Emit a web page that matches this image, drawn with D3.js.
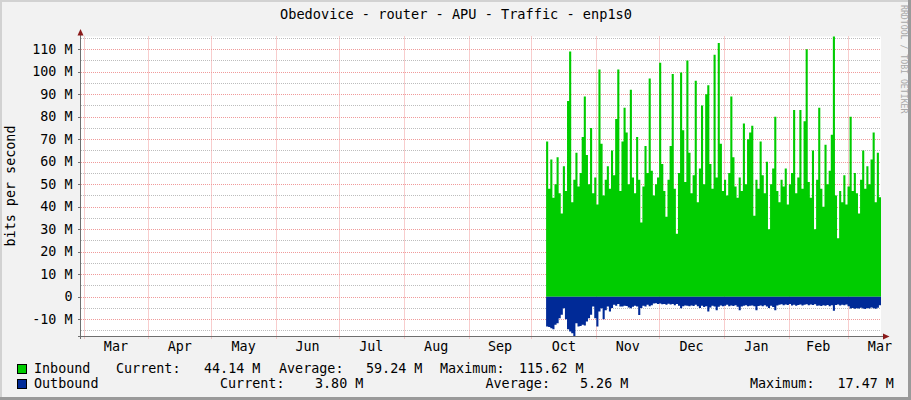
<!DOCTYPE html>
<html><head><meta charset="utf-8">
<script src="https://cdn.jsdelivr.net/npm/d3@7"></script>
<style>
body{margin:0;background:#f2f2f2}
svg{display:block}
text{font-family:"DejaVu Sans Mono",monospace;fill:#000}
</style>
</head><body>
<svg id="chart" width="911" height="400"></svg>
<script>
// ---------------- data ----------------
const title = "Obedovice - router - APU - Traffic - enp1s0";
const yAxisTitle = "bits per second";
const watermark = "RRDTOOL / TOBI OETIKER";
const timeStart = "2022-02-27T19:12:00Z";
const timeEnd = "2023-03-17T00:00:00Z";
const monthStarts = ["2022-03-01","2022-04-01","2022-05-01","2022-06-01","2022-07-01","2022-08-01","2022-09-01","2022-10-01","2022-11-01","2022-12-01","2023-01-01","2023-02-01","2023-03-01"];
const monthLabels = ["Mar","Apr","May","Jun","Jul","Aug","Sep","Oct","Nov","Dec","Jan","Feb","Mar"];
const yTickValues = [-10,0,10,20,30,40,50,60,70,80,90,100,110];
const yTickLabels = ["-10 M","0","10 M","20 M","30 M","40 M","50 M","60 M","70 M","80 M","90 M","100 M","110 M"];
const yMin = -17.47, yMax = 115.62;
const dataStart = "2022-10-08";
// daily values, Mbit/s
const inbound = [69,48,61,44,50,62,46,37,58,47,87,109,42,52,64,49,55,71,89,63,
50,75,46,53,41,101,68,45,52,58,48,65,54,79,101,47,69,84,73,50,
92,53,46,71,52,33,49,67,55,97,56,45,50,53,104,59,47,35.5,52,67,
99,48,28,55,99.6,74,51,105,64,46,54,96,42,57,85,50,90,94,59,48,
107.5,53,112.7,68,47,52,45,55,89,62,49,44,53,47,77,50,70,73,76,36,
52,48,69,54,46,60,30,50,57,80,47,42,52,49,57,41,50,55,83,46,
53,83,48,78,110,51,44,65,30,52,84,48,40,67.5,50,56,72,115.62,45,26,
47,42,54,41,49,80,47,55,46,37,52,65,48,58,50,61,73,42,64,44.14];
const outbound = [13.3,13.5,14.0,14.5,12.5,11.8,9.6,8.0,5.1,10.0,14.5,15.5,16.2,17.47,11.8,13.3,13.0,12.5,12.8,11.0,
9.6,8.0,4.4,9.6,13.3,6.6,5.1,10.0,6.0,4.4,6.6,5.0,3.6,4.0,3.3,4.4,4.4,4.0,4.1,4.8,
5.1,4.5,4.0,4.4,8.1,5.0,4.0,4.4,3.6,4.2,3.8,3.0,2.9,3.2,3.0,3.4,3.2,3.6,3.1,3.5,
3.3,3.8,3.2,4.0,5.1,4.2,3.9,4.0,4.3,3.9,4.1,3.6,4.2,5.0,4.0,4.6,4.2,6.6,4.8,4.0,
4.4,6.0,4.5,3.9,4.2,4.0,3.6,4.3,3.9,4.1,3.8,4.5,6.0,4.4,4.0,3.8,4.2,4.0,3.9,4.3,
6.0,4.1,3.9,4.2,3.8,4.4,5.0,4.0,4.6,6.0,3.9,3.6,3.4,3.8,3.5,3.7,3.3,3.9,3.6,4.0,
3.7,3.5,3.9,3.6,3.4,3.8,3.5,3.7,3.4,4.0,3.9,4.1,3.8,4.0,3.7,4.2,3.8,6.2,3.7,3.5,
3.9,3.6,3.8,3.5,4.2,5.2,5.0,5.4,5.1,5.3,4.9,5.2,5.5,5.0,5.3,4.8,5.1,5.4,4.9,3.8];
const seriesNames = ["Inbound","Outbound"];
const seriesColors = ["#00CC00","#002A97"];
const inStats = ["44.14 M","59.24 M","115.62 M"];
const outStats = ["3.80 M","5.26 M","17.47 M"];
const statNames = ["Current:","Average:","Maximum:"];

// ---------------- drawing ----------------
const W = 911, H = 400;
const plot = {left: 81, right: 881, top: 36.5, bottom: 336};
const svg = d3.select("#chart");
const FS = 13.4;

// background + 3D frame
svg.append("rect").attr("width", W).attr("height", H).attr("fill", "#f2f2f2");
svg.append("rect").attr("x",0).attr("y",0).attr("width",W).attr("height",2).attr("fill","#d2d2d2");
svg.append("rect").attr("x",0).attr("y",0).attr("width",2).attr("height",H).attr("fill","#d2d2d2");
svg.append("rect").attr("x",W-3).attr("y",0).attr("width",3).attr("height",H).attr("fill","#9a9a9a");
svg.append("rect").attr("x",0).attr("y",H-3).attr("width",W).attr("height",3).attr("fill","#9a9a9a");

// plot background
svg.append("rect").attr("x", plot.left).attr("y", plot.top)
  .attr("width", plot.right - plot.left).attr("height", plot.bottom - plot.top).attr("fill", "#fff");

const x = d3.scaleUtc().domain([new Date(timeStart), new Date(timeEnd)]).range([plot.left, plot.right]);
const y = d3.scaleLinear().domain([yMin, yMax]).range([plot.bottom, plot.top]);

const gridG = svg.append("g");
// minor horizontal grid every 5 M
const minorY = d3.range(-15, 116, 5).filter(v => v % 10 !== 0);
gridG.selectAll("line.hmin").data(minorY).join("line")
  .attr("x1", plot.left).attr("x2", plot.right)
  .attr("y1", d => Math.round(y(d)) + 0.5).attr("y2", d => Math.round(y(d)) + 0.5)
  .attr("stroke", "#bdbdbd").attr("stroke-dasharray", "1,1").attr("stroke-width", 1);
gridG.selectAll("line.hmaj").data(yTickValues).join("line")
  .attr("x1", plot.left).attr("x2", plot.right)
  .attr("y1", d => Math.round(y(d)) + 0.5).attr("y2", d => Math.round(y(d)) + 0.5)
  .attr("stroke", "#f09a9a").attr("stroke-dasharray", "1,1").attr("stroke-width", 1);
const monthDates = monthStarts.map(s => new Date(s + "T00:00:00Z"));
gridG.selectAll("line.v").data(monthDates).join("line")
  .attr("x1", d => Math.round(x(d)) + 0.5).attr("x2", d => Math.round(x(d)) + 0.5)
  .attr("y1", plot.top).attr("y2", plot.bottom + 3)
  .attr("stroke", "#f09a9a").attr("stroke-dasharray", "1,1").attr("stroke-width", 1);

// data
const day = 86400000;
const t0 = new Date(dataStart + "T00:00:00Z").getTime();
function pts(arr) {
  const p = arr.map((v, i) => ({t: new Date(t0 + i * day), v}));
  p.push({t: new Date(t0 + arr.length * day), v: arr[arr.length - 1]});
  return p;
}
const areaIn = d3.area().curve(d3.curveStepAfter).x(d => x(d.t)).y0(y(0)).y1(d => y(d.v));
const areaOut = d3.area().curve(d3.curveStepAfter).x(d => x(d.t)).y0(y(0)).y1(d => y(-d.v));
svg.append("path").attr("d", areaIn(pts(inbound))).attr("fill", seriesColors[0]);
svg.append("path").attr("d", areaOut(pts(outbound))).attr("fill", seriesColors[1]);

// axes
svg.append("line").attr("x1", plot.left - 0.5).attr("x2", plot.left - 0.5)
  .attr("y1", plot.top - 4).attr("y2", plot.bottom + 3).attr("stroke", "#6e6e6e");
svg.append("line").attr("x1", plot.left - 3).attr("x2", plot.right + 4)
  .attr("y1", plot.bottom + 0.5).attr("y2", plot.bottom + 0.5).attr("stroke", "#6e6e6e");
svg.append("path").attr("d", `M${plot.left-3.5},${plot.top-1} L${plot.left-0.5},${plot.top-7.5} L${plot.left+2.5},${plot.top-1} Z`).attr("fill", "#8b1a1a");
svg.append("path").attr("d", `M${plot.right+2},${plot.bottom-2.5} L${plot.right+8.5},${plot.bottom+0.5} L${plot.right+2},${plot.bottom+3.5} Z`).attr("fill", "#8b1a1a");

// y ticks
svg.selectAll("line.yt").data(yTickValues).join("line")
  .attr("x1", plot.left - 3).attr("x2", plot.left)
  .attr("y1", d => Math.round(y(d)) + 0.5).attr("y2", d => Math.round(y(d)) + 0.5)
  .attr("stroke", "#6e6e6e");
svg.selectAll("text.yl").data(yTickValues).join("text")
  .attr("x", 72.5).attr("y", d => y(d) + 4.8)
  .attr("text-anchor", "end").style("font-size", FS + "px")
  .text((d, i) => yTickLabels[i]);

// x labels (centered in month)
const nextMonth = d => new Date(Date.UTC(d.getUTCFullYear(), d.getUTCMonth() + 1, 1));
svg.selectAll("text.xl").data(monthDates).join("text")
  .attr("x", d => x(new Date((d.getTime() + nextMonth(d).getTime()) / 2)))
  .attr("y", 351).attr("text-anchor", "middle").style("font-size", FS + "px")
  .text((d, i) => monthLabels[i]);

// title
svg.append("text").attr("x", 456).attr("y", 19.3).attr("text-anchor", "middle")
  .style("font-size", "13.6px").text(title);
// y axis title
svg.append("text").attr("transform", "translate(14.5,186) rotate(-90)")
  .attr("text-anchor", "middle").style("font-size", FS + "px").text(yAxisTitle);
// watermark
svg.append("text").attr("transform", "translate(900.5,5) rotate(90)")
  .style("font-size", "8.2px").style("fill", "#a8a8a8").text(watermark);

// legend
const rows = [
  {name: seriesNames[0], color: seriesColors[0], stats: inStats, y: 373,
   xs: [116, 204, 279, 366, 440, 519]},
  {name: seriesNames[1], color: seriesColors[1], stats: outStats, y: 388,
   xs: [220, 315, 485.5, 580, 750, 837.5]}
];
rows.forEach(r => {
  svg.append("rect").attr("x", 17.5).attr("y", r.y - 8.5).attr("width", 9).attr("height", 9)
    .attr("fill", r.color).attr("stroke", "#000").attr("stroke-width", 1);
  svg.append("text").attr("x", 34).attr("y", r.y).style("font-size", FS + "px").text(r.name);
  for (let k = 0; k < 3; k++) {
    svg.append("text").attr("x", r.xs[2*k]).attr("y", r.y).style("font-size", FS + "px").text(statNames[k]);
    svg.append("text").attr("x", r.xs[2*k+1]).attr("y", r.y).style("font-size", FS + "px").text(r.stats[k]);
  }
});
</script>
</body></html>
